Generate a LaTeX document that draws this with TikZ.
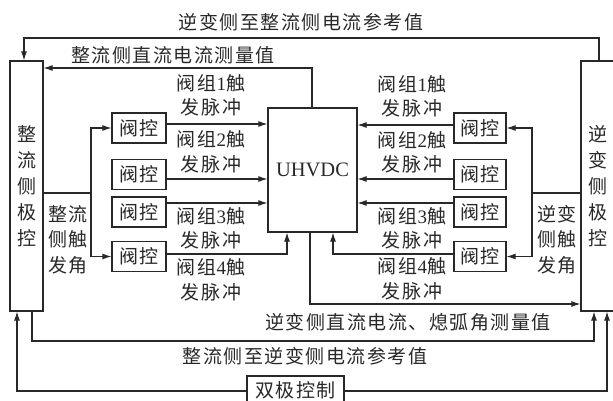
\documentclass[tikz,border=0pt]{standalone}
\usepackage{fontspec}
\setmainfont{Liberation Serif}
\newfontfamily\cjk[LetterSpace=8]{Noto Sans CJK SC}
\usetikzlibrary{arrows.meta}
\definecolor{ink}{RGB}{40,40,40}
\newcommand\dg[1]{{\rmfamily #1}}
\tikzset{
  box/.style={draw=ink, line width=1.1pt, inner sep=0pt, text=ink, font=\fontsize{19}{24.5}\selectfont\cjk},
  vbox/.style={box, minimum height=30pt},
  lbl/.style={text=ink, align=center, inner sep=0pt, font=\fontsize{19}{24.5}\selectfont\cjk},
  arr/.style={draw=ink, line width=1.1pt, -{Latex[length=9pt,width=6pt]}},
  ln/.style={draw=ink, line width=1.1pt},
}
\begin{document}
\begin{tikzpicture}[x=1pt,y=-1pt]
\useasboundingbox (0,0) rectangle (613,401);
% main boxes
\node[box, minimum width=33pt, minimum height=250pt, align=center, font=\fontsize{19}{26}\selectfont\cjk] (L) at (26.5,186) {整\\流\\侧\\极\\控};
\node[box, minimum width=34pt, minimum height=250pt, align=center, font=\fontsize{19}{26}\selectfont\cjk] (R) at (598,186) {逆\\变\\侧\\极\\控};
\node[box, minimum width=89pt, minimum height=124pt, font=\fontsize{20.5}{24}\selectfont\rmfamily] (U) at (312.5,170) {UHVDC};
\node[box, minimum width=97pt, minimum height=29pt] (B) at (295.5,390.5) {双极控制};
% valve controls
\node[vbox, minimum width=54pt] (v1) at (139,128) {阀控};
\node[vbox, minimum width=54pt] (v2) at (139,174.5) {阀控};
\node[vbox, minimum width=54pt] (v3) at (139,212) {阀控};
\node[vbox, minimum width=54pt] (v4) at (139,256.5) {阀控};
\node[vbox, minimum width=52pt] (w1) at (480,128) {阀控};
\node[vbox, minimum width=52pt] (w2) at (480,174.5) {阀控};
\node[vbox, minimum width=52pt] (w3) at (480,212) {阀控};
\node[vbox, minimum width=52pt] (w4) at (480,256.5) {阀控};
% labels
\node[lbl] (t1l) at (301,22) {逆变侧至整流侧电流参考值};
\node[lbl] (t2l) at (173,55) {整流侧直流电流测量值};
\node[lbl] (b1l) at (408,322) {逆变侧直流电流、熄弧角测量值};
\node[lbl] (b2l) at (305,356) {整流侧至逆变侧电流参考值};
\node[lbl, font=\fontsize{19}{25.5}\selectfont\cjk] (lt) at (68,239.5) {整流\\侧触\\发角};
\node[lbl, font=\fontsize{19}{25.5}\selectfont\cjk] (rt) at (557,239.5) {逆变\\侧触\\发角};
\node[lbl] (la1) at (211,95.5) {阀组\dg{1}触\\发脉冲};
\node[lbl] (la2) at (211,152) {阀组\dg{2}触\\发脉冲};
\node[lbl] (la3) at (211,228.5) {阀组\dg{3}触\\发脉冲};
\node[lbl] (la4) at (211,280) {阀组\dg{4}触\\发脉冲};
\node[lbl] (ra1) at (412,96.5) {阀组\dg{1}触\\发脉冲};
\node[lbl] (ra2) at (412,152.5) {阀组\dg{2}触\\发脉冲};
\node[lbl] (ra3) at (412,228.5) {阀组\dg{3}触\\发脉冲};
\node[lbl] (ra4) at (412,279) {阀组\dg{4}触\\发脉冲};
% coordinates
\coordinate (t1) at (599,38);
\coordinate (t2) at (24,38);
\coordinate (m1) at (312,68);
\coordinate (m2) at (310,304);
\coordinate (r1) at (32,341);
\coordinate (r2) at (594,341);
\coordinate (b1) at (17,391);
\coordinate (b2) at (607,391);
\coordinate (f0) at (91,193);
\coordinate (g0) at (532,193);
\coordinate (o1) at (0,124);
\coordinate (o1r) at (0,125);
\coordinate (o2) at (0,179);
\coordinate (o3) at (0,203);
\coordinate (q1) at (287,254);
\coordinate (q2) at (333,254);
% connectors
\draw[arr] (R.north -| t1) -- (t1) -- (t2) -- (L.north -| t2);
\draw[arr] (U.north -| m1) -- (m1) -- (L.east |- m1);
\draw[arr] (U.south -| m2) -- (m2) -- (R.west |- m2);
\draw[arr] (L.south -| r1) -- (r1) -- (r2) -- (R.south -| r2);
\draw[arr] (B.west |- b1) -- (b1) -- (L.south -| b1);
\draw[arr] (B.east |- b2) -- (b2) -- (R.south -| b2);
\draw[ln] (L.east |- f0) -- (f0);
\draw[arr] (f0) |- (v1.west);
\draw[arr] (f0) |- (v4.west);
\draw[ln] (R.west |- g0) -- (g0);
\draw[arr] (g0) |- (w1.east);
\draw[arr] (g0) |- (w4.east);
\draw[arr] (v1.east |- o1) -- (U.west |- o1);
\draw[arr] (v2.east |- o2) -- (U.west |- o2);
\draw[arr] (v3.east |- o3) -- (U.west |- o3);
\draw[arr] (v4.east |- q1) -- (q1) -- (U.south -| q1);
\draw[arr] (w1.west |- o1r) -- (U.east |- o1r);
\draw[arr] (w2.west |- o2) -- (U.east |- o2);
\draw[arr] (w3.west |- o3) -- (U.east |- o3);
\draw[arr] (w4.west |- q2) -- (q2) -- (U.south -| q2);
\end{tikzpicture}
\end{document}
